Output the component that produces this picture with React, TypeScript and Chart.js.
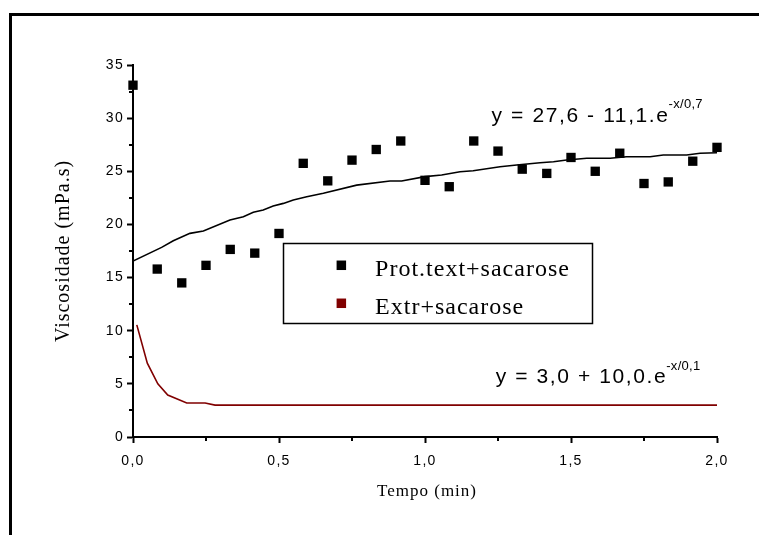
import React, { useEffect, useRef } from 'react';
import { Chart, registerables } from 'chart.js';

Chart.register(...registerables);

// ---- Data ----
const timeMin = [0, 0.083, 0.167, 0.25, 0.333, 0.417, 0.5, 0.583, 0.667, 0.75, 0.833, 0.917, 1.0, 1.083, 1.167, 1.25, 1.333, 1.417, 1.5, 1.583, 1.667, 1.75, 1.833, 1.917, 2.0];
const protViscosity = [33.1, 15.8, 14.5, 16.15, 17.65, 17.3, 19.15, 25.75, 24.1, 26.05, 27.05, 27.85, 24.15, 23.55, 27.85, 26.9, 25.2, 24.8, 26.3, 25.0, 26.7, 23.85, 24.0, 25.95, 27.25];

const protFitX = [0, 0.098, 0.138, 0.195, 0.241, 0.332, 0.378, 0.412, 0.446, 0.48, 0.515, 0.549, 0.595, 0.652, 0.766, 0.88, 0.92, 1.0, 1.057, 1.12, 1.165, 1.257, 1.314, 1.394, 1.44, 1.485, 1.554, 1.634, 1.69, 1.771, 1.816, 1.896, 1.942, 2.0];
const protFitY = [16.55, 17.84, 18.47, 19.16, 19.38, 20.41, 20.73, 21.14, 21.35, 21.73, 21.98, 22.3, 22.6, 22.93, 23.7, 24.08, 24.08, 24.5, 24.65, 24.96, 25.05, 25.43, 25.59, 25.8, 25.9, 26.06, 26.22, 26.22, 26.37, 26.37, 26.53, 26.53, 26.69, 26.75];

const extrFitX = [0.013, 0.049, 0.085, 0.119, 0.184, 0.247, 0.281, 2.0];
const extrFitY = [10.55, 6.95, 5.0, 3.95, 3.2, 3.2, 3.0, 3.0];

const seriesLabels = ['Prot.text+sacarose', 'Extr+sacarose'];
const xTitle = 'Tempo (min)';
const yTitle = 'Viscosidade (mPa.s)';
const eq1Main = 'y = 27,6 - 11,1.e';
const eq1Sup = '-x/0,7';
const eq2Main = 'y = 3,0 + 10,0.e';
const eq2Sup = '-x/0,1';

const xMinorTicks = [0.25, 0.75, 1.25, 1.75];
const yMinorTicks = [2.5, 7.5, 12.5, 17.5, 22.5, 27.5, 32.5];

const RED = '#800000';

const decorPlugin = {
  id: 'decor',
  beforeDraw(chart: any) {
    const ctx = chart.ctx;
    ctx.save();
    ctx.fillStyle = '#ffffff';
    ctx.fillRect(0, 0, chart.width, chart.height);
    ctx.restore();
    ctx.letterSpacing = '1.3px';
  },
  beforeDatasetsDraw(chart: any) {
    chart.ctx.letterSpacing = '0px';
  },
  afterDraw(chart: any) {
    const ctx = chart.ctx;
    const xs = chart.scales.x;
    const ys = chart.scales.y;
    const area = chart.chartArea;
    ctx.save();
    ctx.letterSpacing = '0px';
    // minor ticks
    ctx.strokeStyle = '#000';
    ctx.lineWidth = 2;
    ctx.beginPath();
    xMinorTicks.forEach((v) => {
      const px = Math.round(xs.getPixelForValue(v));
      ctx.moveTo(px, area.bottom);
      ctx.lineTo(px, area.bottom + 4);
    });
    yMinorTicks.forEach((v) => {
      const py = Math.round(ys.getPixelForValue(v));
      ctx.moveTo(area.left - 4, py);
      ctx.lineTo(area.left, py);
    });
    ctx.stroke();

    ctx.fillStyle = '#000';
    // axis titles
    ctx.font = '20px "Liberation Serif", "Times New Roman", serif';
    ctx.textAlign = 'center';
    ctx.textBaseline = 'middle';
    ctx.letterSpacing = '1px';
    ctx.save();
    ctx.translate(64, (area.top + area.bottom) / 2);
    ctx.rotate(-Math.PI / 2);
    ctx.fillText(yTitle, 0, 0);
    ctx.restore();
    ctx.font = '17px "Liberation Serif", "Times New Roman", serif';
    ctx.fillText(xTitle, (area.left + area.right) / 2 + 2, 492);

    // equations
    const drawEq = (main: string, sup: string, xv: number, yv: number) => {
      const px = xs.getPixelForValue(xv);
      const py = ys.getPixelForValue(yv);
      ctx.textAlign = 'left';
      ctx.textBaseline = 'alphabetic';
      ctx.font = '21px "Liberation Sans", Arial, sans-serif';
      ctx.letterSpacing = '1.6px';
      ctx.fillStyle = '#000';
      ctx.fillText(main, px, py);
      const w = ctx.measureText(main).width;
      ctx.font = '13px "Liberation Sans", Arial, sans-serif';
      ctx.letterSpacing = '0.3px';
      ctx.fillText(sup, px + w - 1, py - 13.5);
    };
    drawEq(eq1Main, eq1Sup, 1.228, 29.66);
    drawEq(eq2Main, eq2Sup, 1.242, 5.05);

    // legend box
    const lx1 = xs.getPixelForValue(0.514);
    const lx2 = xs.getPixelForValue(1.572);
    const ly1 = ys.getPixelForValue(18.25);
    const ly2 = ys.getPixelForValue(10.72);
    ctx.lineWidth = 1.5;
    ctx.strokeStyle = '#000';
    ctx.strokeRect(Math.round(lx1) + 0.5, Math.round(ly1) + 0.5, Math.round(lx2 - lx1), Math.round(ly2 - ly1));
    const colors = ['#000', RED];
    const rows = [ly1 + 22, ly1 + 60];
    ctx.font = '24px "Liberation Serif", "Times New Roman", serif';
    ctx.letterSpacing = '1px';
    ctx.textAlign = 'left';
    ctx.textBaseline = 'alphabetic';
    seriesLabels.forEach((lab, i) => {
      ctx.fillStyle = colors[i];
      ctx.fillRect(lx1 + 53.5, rows[i] - 4.5, 9.5, 9.5);
      ctx.fillStyle = '#000';
      ctx.fillText(lab, lx1 + 92, rows[i] + 11);
    });

    // frame
    ctx.fillStyle = '#000';
    ctx.fillRect(9, 13, chart.width - 9, 3);
    ctx.fillRect(9, 13, 3, chart.height - 13);
    ctx.restore();
  },
};

export default function App() {
  const canvasRef = useRef<HTMLCanvasElement | null>(null);

  useEffect(() => {
    const canvas = canvasRef.current;
    if (!canvas) return;
    const chart = new Chart(canvas, {
      type: 'scatter',
      data: {
        datasets: [
          {
            label: seriesLabels[0],
            data: timeMin.map((x, i) => ({ x, y: protViscosity[i] })),
            pointStyle: 'rect',
            pointRadius: 6.6,
            pointBackgroundColor: '#000',
            pointBorderWidth: 0,
            showLine: false,
            clip: false,
            order: 0,
          },
          {
            label: 'fit1',
            data: protFitX.map((x, i) => ({ x, y: protFitY[i] })),
            showLine: true,
            borderColor: '#000',
            borderWidth: 1.6,
            pointRadius: 0,
            tension: 0,
            order: 1,
          },
          {
            label: seriesLabels[1],
            data: extrFitX.map((x, i) => ({ x, y: extrFitY[i] })),
            showLine: true,
            borderColor: RED,
            borderWidth: 1.6,
            pointRadius: 0,
            tension: 0,
            order: 2,
          },
        ],
      },
      options: {
        responsive: false,
        animation: false,
        layout: { padding: { left: 0, top: 65, right: 42, bottom: 0 } },
        plugins: {
          legend: { display: false },
          title: { display: false },
          tooltip: { enabled: false },
        },
        scales: {
          x: {
            type: 'linear',
            min: 0,
            max: 2,
            afterFit: (s: any) => { s.height = 98; },
            border: { display: true, color: '#000', width: 2 },
            grid: { drawOnChartArea: false, drawTicks: true, tickLength: 6, tickColor: '#000', tickWidth: 2 },
            ticks: {
              stepSize: 0.5,
              color: '#000',
              padding: 10,
              font: { family: '"Liberation Sans", Arial, sans-serif', size: 14 },
              callback: (v: any) => Number(v).toFixed(1).replace('.', ','),
            },
          },
          y: {
            type: 'linear',
            min: 0,
            max: 35,
            afterFit: (s: any) => { s.width = 133; },
            border: { display: true, color: '#000', width: 2 },
            grid: { drawOnChartArea: false, drawTicks: true, tickLength: 6, tickColor: '#000', tickWidth: 2 },
            ticks: {
              stepSize: 5,
              color: '#000',
              padding: 3,
              font: { family: '"Liberation Sans", Arial, sans-serif', size: 14 },
              callback: (v: any) => String(v),
            },
          },
        },
      },
      plugins: [decorPlugin],
    });
    return () => chart.destroy();
  }, []);

  return (
    <div style={{ position: 'fixed', left: 0, top: 0, width: 759, height: 535, background: '#fff' }}>
      <canvas ref={canvasRef} width={759} height={535} style={{ display: 'block', width: 759, height: 535 }} />
    </div>
  );
}
